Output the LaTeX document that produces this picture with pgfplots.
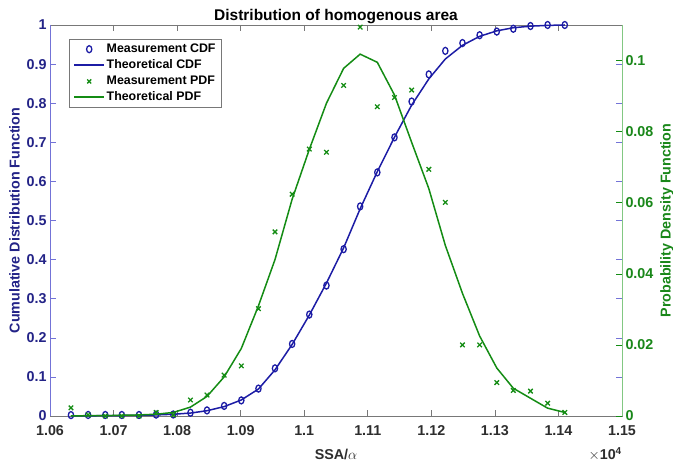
\documentclass[border=0pt]{standalone}
\usepackage{pgfplots}
\usepackage{pgfplotstable}
\pgfplotsset{compat=1.18}
\usepackage{fontspec}
\setmainfont{Liberation Sans}

\definecolor{cdfblue}{RGB}{28,28,165}
\definecolor{cdflab}{RGB}{35,35,135}
\definecolor{pdfgreen}{RGB}{20,140,20}
\definecolor{pdflab}{RGB}{25,135,25}
\definecolor{leftline}{RGB}{115,115,215}
\definecolor{rightline}{RGB}{130,200,130}
\definecolor{boxgray}{RGB}{120,120,120}
\definecolor{ticktext}{RGB}{45,45,45}

\pgfplotstableread{
x cdfm cdft pdfm pdft
10633 0.0023 0.0003 0.0023 0.0000
10660 0.0026 0.0005 0.0003 0.0001
10687 0.0026 0.0008 0.0000 0.0001
10713 0.0026 0.0012 0.0000 0.0002
10740 0.0026 0.0018 0.0000 0.0003
10767 0.0036 0.0027 0.0010 0.0005
10794 0.0039 0.0045 0.0003 0.0010
10821 0.0084 0.0075 0.0045 0.0025
10847 0.0143 0.0135 0.0059 0.0055
10874 0.0258 0.0240 0.0115 0.0110
10901 0.0399 0.0410 0.0141 0.0190
10928 0.0701 0.0690 0.0302 0.0310
10954 0.1219 0.1180 0.0518 0.0440
10981 0.1843 0.1830 0.0624 0.0610
11008 0.2594 0.2580 0.0751 0.0750
11035 0.3336 0.3400 0.0742 0.0880
11062 0.4266 0.4300 0.0930 0.0978
11088 0.5360 0.5300 0.1094 0.1018
11115 0.6230 0.6250 0.0870 0.0995
11142 0.7126 0.7130 0.0896 0.0903
11169 0.8043 0.7950 0.0917 0.0770
11196 0.8737 0.8620 0.0694 0.0640
11222 0.9338 0.9130 0.0601 0.0480
11249 0.9538 0.9480 0.0200 0.0345
11276 0.9738 0.9710 0.0200 0.0225
11303 0.9832 0.9850 0.0094 0.0135
11329 0.9904 0.9930 0.0072 0.0078
11356 0.9974 0.9970 0.0070 0.0050
11383 1.0000 0.9990 0.0036 0.0022
11410 1.0000 1.0000 0.0010 0.0010
}\data

\pgfplotsset{
  cdfmark/.style={only marks, mark=o, mark size=3.5pt, mark options={draw=cdfblue, line width=1.3pt, xscale=0.75},
    legend image code/.code={\draw[only marks, mark=o, mark size=3.5pt, mark options={draw=cdfblue, line width=1.3pt, xscale=0.75}] plot coordinates {(15pt,0pt)};}},
  cdfline/.style={draw=cdfblue, line width=1.5pt, no markers,
    legend image code/.code={\draw[draw=cdfblue, line width=2pt] (0pt,0pt) -- (30pt,0pt);}},
  pdfmark/.style={only marks, mark=x, mark size=3.2pt, mark options={draw=pdfgreen, line width=1.3pt},
    legend image code/.code={\draw[only marks, mark=x, mark size=2.8pt, mark options={draw=pdfgreen, line width=1.3pt}] plot coordinates {(15pt,0pt)};}},
  pdfline/.style={draw=pdfgreen, line width=1.5pt, no markers,
    legend image code/.code={\draw[draw=pdfgreen, line width=2pt] (0pt,0pt) -- (30pt,0pt);}},
}
\tikzset{tickfont/.style={font=\fontsize{14.3}{16}\selectfont\bfseries}}

\begin{document}
\begin{tikzpicture}
\begin{axis}[
  width=572pt, height=391pt, scale only axis,
  xmin=10600, xmax=11500, ymin=0, ymax=1,
  xtick={10600,10700,10800,10900,11000,11100,11200,11300,11400,11500},
  ytick={0,0.1,0.2,0.3,0.4,0.5,0.6,0.7,0.8,0.9,1},
  scaled x ticks=base 10:-4,
  scaled y ticks=false,
  xtick scale label code/.code={\textcolor{ticktext}{$\times$\textbf{10}\textsuperscript{\textbf{4}}}},
  every x tick scale label/.style={at={(1,0)}, yshift=-25pt, anchor=north east, inner sep=0pt, font=\fontsize{14.3}{16}\selectfont},
  /pgf/number format/assume math mode=true,
  /pgf/number format/fixed,
  /pgf/number format/precision=2,
  tick align=inside,
  major tick length=6pt,
  axis line style={boxgray, line width=0.6pt},
  xtick style={boxgray, line width=0.6pt},
  ytick style={leftline, line width=0.6pt},
  yticklabel pos=left,
  xticklabel style={ticktext, tickfont, yshift=-6pt},
  yticklabel style={cdflab, tickfont},
  xlabel={SSA/$\alpha$},
  xlabel style={ticktext, tickfont, yshift=-7pt},
  ylabel={Cumulative Distribution Function},
  ylabel style={cdflab, tickfont},
  title={Distribution of homogenous area},
  title style={font=\fontsize{15.5}{18}\selectfont\bfseries, yshift=-8pt},
  clip=false,
]
\coordinate (SW) at (rel axis cs:0,0);
\coordinate (NE) at (rel axis cs:1,1);
\addplot[cdfline] table[x=x, y=cdft] {\data};
\addplot[cdfmark] table[x=x, y=cdfm] {\data};
\draw[leftline, line width=0.6pt] (rel axis cs:0,0) -- (rel axis cs:0,1);
\end{axis}
\begin{axis}[
  width=572pt, height=391pt, scale only axis,
  xmin=10600, xmax=11500, ymin=0, ymax=0.11,
  axis x line=none,
  axis y line*=right,
  axis line style={rightline, line width=0.6pt, -},
  ytick={0,0.02,0.04,0.06,0.08,0.1},
  scaled y ticks=false,
  /pgf/number format/assume math mode=true,
  /pgf/number format/fixed,
  /pgf/number format/precision=2,
  tick align=inside,
  major tick length=6pt,
  ytick style={pdfgreen, line width=0.6pt},
  yticklabel style={pdflab, tickfont},
  ylabel={Probability Density Function},
  ylabel style={pdflab, tickfont},
  clip=false,
  legend style={at={(rel axis cs:0,1)}, anchor=north west, xshift=19pt, yshift=-14pt,
    draw=boxgray, inner xsep=4pt, inner ysep=3pt,
    font=\fontsize{12.4}{14}\selectfont\bfseries, row sep=2.1pt,
    nodes={inner sep=1.5pt, text height=9pt, text depth=2pt}},
  legend cell align=left,
]
\addlegendimage{cdfmark}
\addlegendentry{Measurement CDF}
\addlegendimage{cdfline}
\addlegendentry{Theoretical CDF}
\addplot[pdfmark] table[x=x, y=pdfm] {\data};
\addlegendentry{Measurement PDF}
\addplot[pdfline] table[x=x, y=pdft] {\data};
\addlegendentry{Theoretical PDF}
\end{axis}
\pgfresetboundingbox
\path[use as bounding box] ([xshift=-50pt,yshift=-49pt]SW) rectangle ([xshift=51pt,yshift=25pt]NE);
\end{tikzpicture}
\end{document}
